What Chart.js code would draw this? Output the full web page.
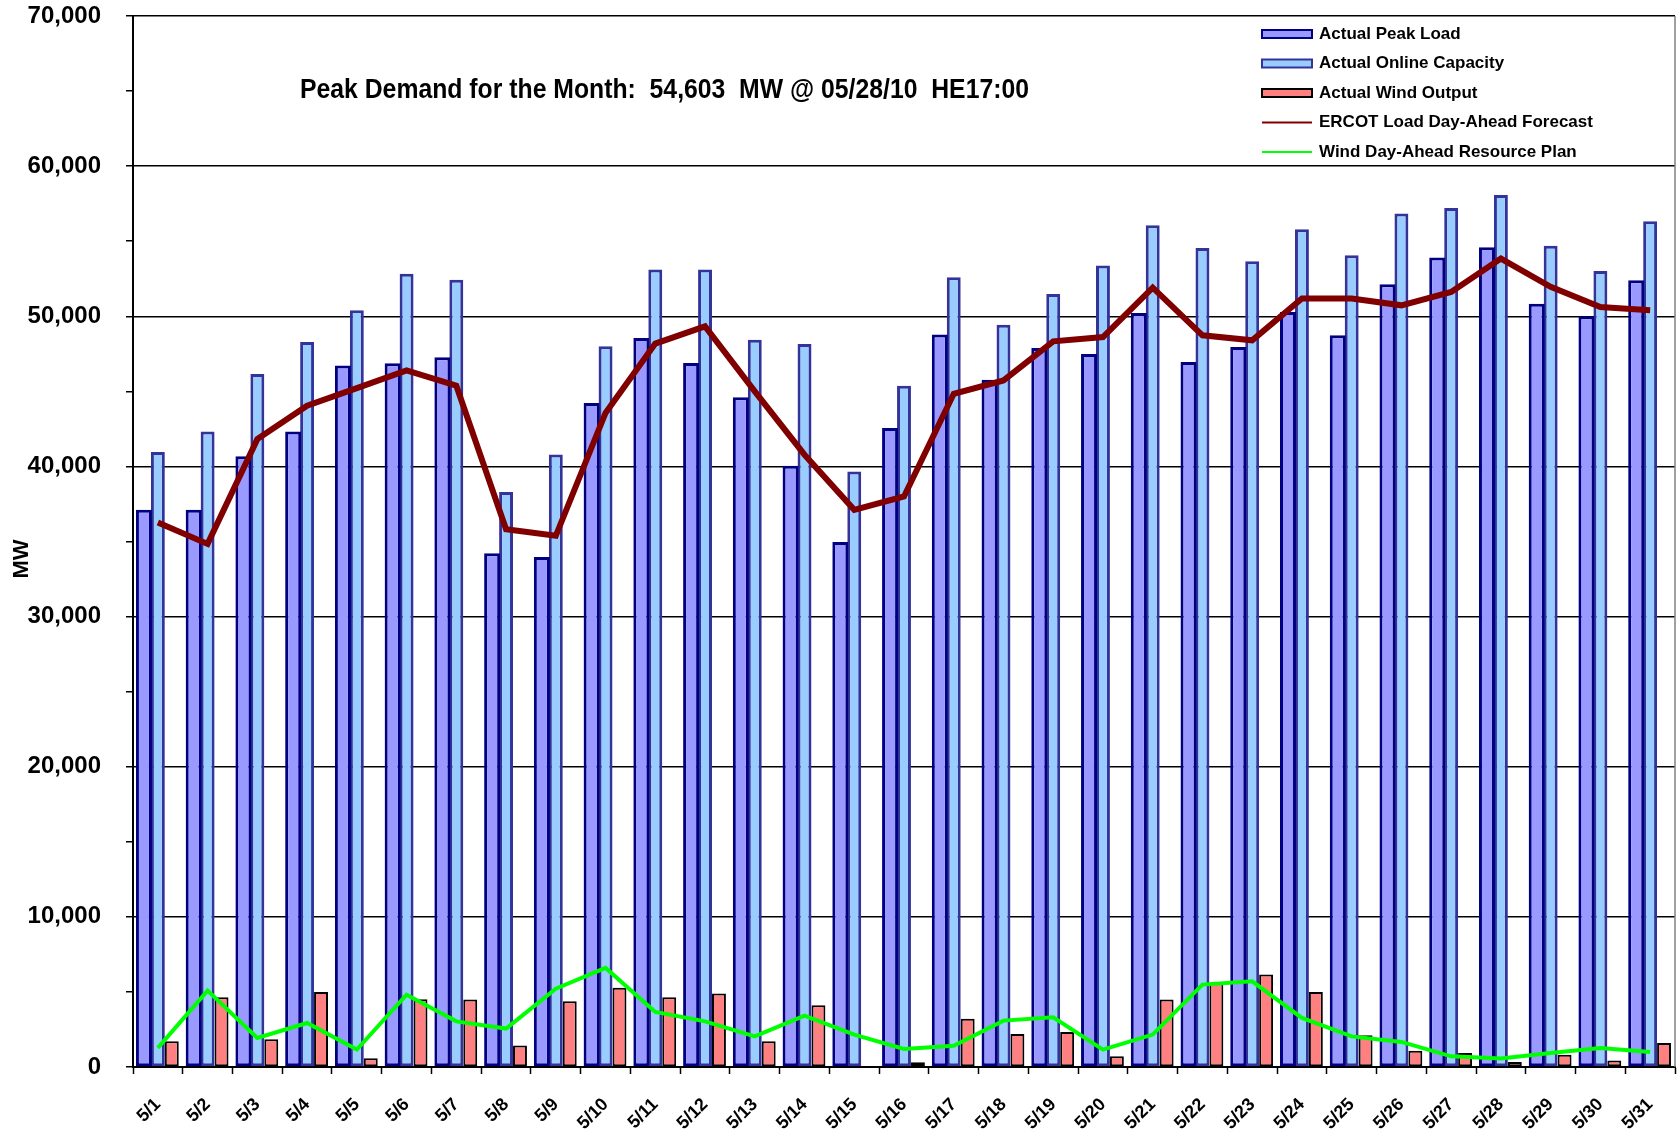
<!DOCTYPE html>
<html>
<head>
<meta charset="utf-8">
<script src="https://cdn.jsdelivr.net/npm/chart.js@4.4.1/dist/chart.umd.min.js"></script>
<style>
    html, body { margin: 0; padding: 0; background: #fff; }
    #wrap { width: 1677px; height: 1130px; }
</style>
</head>
<body>
<div id="wrap"><canvas id="peakChart"></canvas></div>
<script>
// May 2010 daily values (MW)
const days = ['5/1', '5/2', '5/3', '5/4', '5/5', '5/6', '5/7', '5/8', '5/9', '5/10',
    '5/11', '5/12', '5/13', '5/14', '5/15', '5/16', '5/17', '5/18', '5/19', '5/20',
    '5/21', '5/22', '5/23', '5/24', '5/25', '5/26', '5/27', '5/28', '5/29', '5/30', '5/31'];

const peakLoad = [37110, 37110, 40670, 42330, 46730, 46870, 47270, 34220, 33960, 44220,
    48560, 46890, 44600, 40040, 34960, 42560, 48780, 45780, 47890, 47490,
    50220, 46950, 47950, 50290, 48730, 52130, 53910, 54603, 50840, 50000, 52400];

const onlineCapacity = [40960, 42330, 46160, 48290, 50400, 52840, 52440, 38290, 40800, 48000,
    53110, 53110, 48440, 48160, 39670, 45380, 52600, 49440, 51490, 53380,
    56070, 54550, 53670, 55800, 54070, 56840, 57220, 58070, 54690, 53020, 56330];

const windOutput = [1710, 4640, 1840, 5000, 580, 4510, 4490, 1440, 4380, 5270,
    4640, 4890, 1710, 4110, 50, 310, 3220, 2200, 2330, 710,
    4490, 5600, 6160, 5000, 2110, 1090, 930, 330, 820, 440, 1600];

const loadForecast = [36270, 34840, 41820, 44040, 45220, 46400, 45380, 35820, 35380, 43560,
    48180, 49330, 45000, 40780, 37110, 38000, 44840, 45730, 48330, 48620,
    51910, 48730, 48400, 51180, 51180, 50730, 51620, 53840, 51960, 50620, 50400];

const windPlan = [1270, 5090, 1930, 2930, 1160, 4820, 3040, 2560, 5220, 6600,
    3670, 3040, 2040, 3420, 2160, 1200, 1420, 3090, 3310, 1160,
    2160, 5490, 5710, 3270, 2040, 1670, 710, 560, 930, 1270, 1000];

const yTicks = [0, 10000, 20000, 30000, 40000, 50000, 60000, 70000];

const titleText = 'Peak Demand for the Month:  54,603  MW @ 05/28/10  HE17:00';
const FONT = '"Liberation Sans", Arial, sans-serif';

// title, axis label, legend and plot frame
const decorations = {
    id: 'decorations',
    afterDraw(chart) {
        const ctx = chart.ctx;
        const area = chart.chartArea;
        ctx.save();

        // right frame line
        ctx.strokeStyle = '#808080';
        ctx.lineWidth = 1.5;
        ctx.beginPath();
        ctx.moveTo(area.right, area.top);
        ctx.lineTo(area.right, area.bottom);
        ctx.stroke();

        // title, squeezed to the width it has in the original
        ctx.fillStyle = '#000';
        ctx.font = 'bold 27px "Liberation Sans Narrow", "Liberation Sans", sans-serif';
        ctx.textBaseline = 'middle';
        ctx.textAlign = 'left';
        const w = ctx.measureText(titleText).width;
        ctx.save();
        ctx.translate(300, 91);
        ctx.scale(729 / w, 1);
        ctx.fillText(titleText, 0, 0);
        ctx.restore();

        // y axis label
        ctx.save();
        ctx.translate(22, 559);
        ctx.rotate(-Math.PI / 2);
        ctx.font = 'bold 22px ' + FONT;
        ctx.textAlign = 'center';
        ctx.fillText('MW', 0, 0);
        ctx.restore();

        // legend
        ctx.font = 'bold 17px ' + FONT;
        ctx.textAlign = 'left';
        chart.data.datasets.forEach((ds, i) => {
            const y = 34 + i * 29.5;
            if (ds.type === 'line') {
                ctx.strokeStyle = ds.borderColor;
                ctx.lineWidth = 2;
                ctx.beginPath();
                ctx.moveTo(1262, y);
                ctx.lineTo(1312, y);
                ctx.stroke();
            } else {
                ctx.fillStyle = ds.backgroundColor;
                ctx.fillRect(1262, y - 4, 50, 8);
                ctx.strokeStyle = ds.borderColor;
                ctx.lineWidth = 2;
                ctx.strokeRect(1262, y - 4, 50, 8);
            }
            ctx.fillStyle = '#000';
            ctx.fillText(ds.label, 1319, y);
        });
        ctx.restore();
    }
};

const chart = new Chart(document.getElementById('peakChart'), {
    type: 'bar',
    data: {
        labels: days,
        datasets: [
            {
                label: 'Actual Peak Load',
                data: peakLoad,
                backgroundColor: '#9999ff',
                borderColor: '#000080',
                borderWidth: 3,
                borderSkipped: false,
                categoryPercentage: 0.84,
                barPercentage: 1.15,
                order: 1
            },
            {
                label: 'Actual Online Capacity',
                data: onlineCapacity,
                backgroundColor: '#99ccff',
                borderColor: '#333399',
                borderWidth: 3,
                borderSkipped: false,
                categoryPercentage: 0.84,
                barPercentage: 1.0,
                order: 2
            },
            {
                label: 'Actual Wind Output',
                data: windOutput,
                backgroundColor: '#ff8080',
                borderColor: '#000000',
                borderWidth: 2,
                borderSkipped: false,
                categoryPercentage: 0.84,
                barPercentage: 1.0,
                order: 3
            },
            {
                type: 'line',
                label: 'ERCOT Load Day-Ahead Forecast',
                data: loadForecast,
                borderColor: '#800000',
                backgroundColor: '#800000',
                borderWidth: 6,
                pointRadius: 0,
                tension: 0,
                order: 0
            },
            {
                type: 'line',
                label: 'Wind Day-Ahead Resource Plan',
                data: windPlan,
                borderColor: '#00ff00',
                backgroundColor: '#00ff00',
                borderWidth: 4,
                pointRadius: 0,
                tension: 0,
                order: 0
            }
        ]
    },
    options: {
        responsive: true,
        maintainAspectRatio: false,
        devicePixelRatio: 1,
        animation: false,
        layout: { padding: { top: 16, right: 2, left: 0, bottom: 0 } },
        plugins: {
            legend: { display: false },
            tooltip: { enabled: false }
        },
        scales: {
            x: {
                ticks: {
                    autoSkip: false,
                    minRotation: 45,
                    maxRotation: 45,
                    padding: 20,
                    color: '#000',
                    font: { family: FONT, size: 18, weight: 'bold' }
                },
                grid: {
                    offset: true,
                    drawOnChartArea: false,
                    tickLength: 7,
                    tickWidth: 1.5,
                    tickColor: '#000'
                },
                border: { color: '#000', width: 2 },
                afterFit: scale => {
                    scale.height = 63;
                    scale.paddingLeft = 0;
                    scale.paddingRight = 0;
                }
            },
            y: {
                min: 0,
                max: 70000,
                ticks: {
                    stepSize: 5000,
                    padding: 25,
                    color: '#000',
                    font: { family: FONT, size: 24, weight: 'bold' },
                    callback: v => yTicks.includes(v) ? v.toLocaleString('en-US') : ''
                },
                grid: {
                    color: c => (c.tick && yTicks.includes(c.tick.value)) ? '#000' : 'rgba(0,0,0,0)',
                    lineWidth: 1.5,
                    tickLength: 7,
                    tickWidth: 1.5,
                    tickColor: '#000'
                },
                border: { color: '#000', width: 2 },
                afterFit: scale => {
                    scale.width = 133;
                    scale.paddingTop = 0;
                    scale.paddingBottom = 0;
                }
            }
        }
    },
    plugins: [decorations]
});
</script>
</body>
</html>
